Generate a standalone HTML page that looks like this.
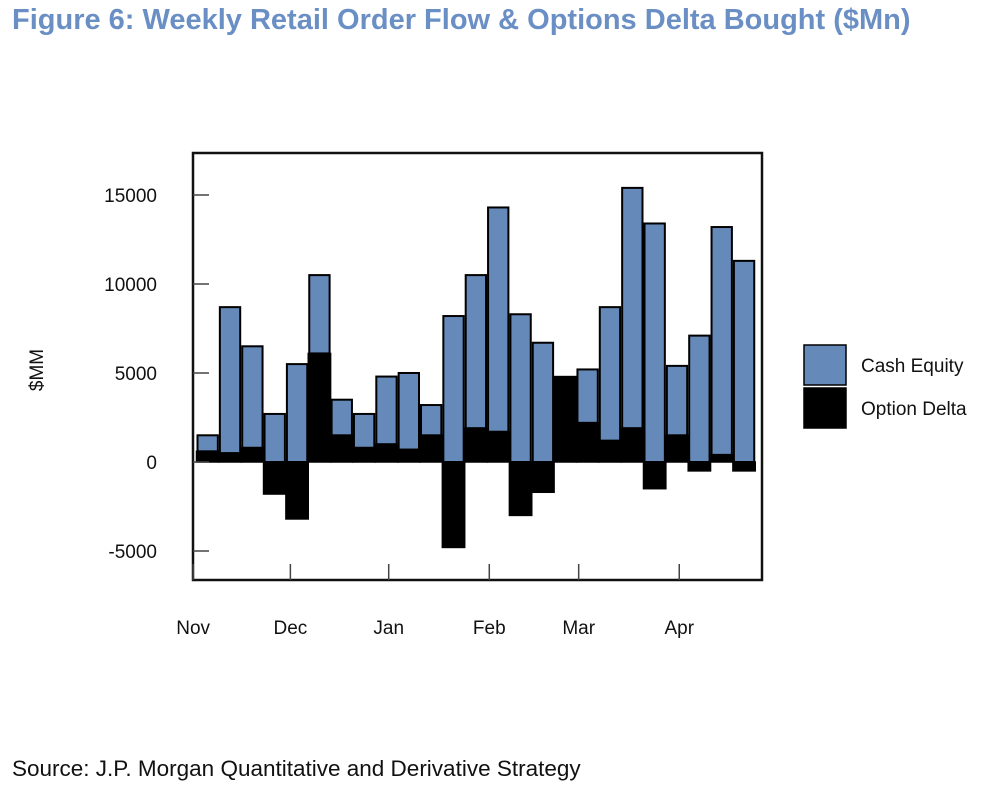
<!DOCTYPE html>
<html><head><meta charset="utf-8"><style>
body{margin:0;background:#fff;width:986px;height:799px;overflow:hidden;font-family:"Liberation Sans",sans-serif}
#title{position:absolute;left:12px;top:4px;font-size:29px;font-weight:bold;color:#6a8fc4;white-space:nowrap}
#src{position:absolute;left:12px;top:756px;font-size:22.5px;color:#111}
svg{position:absolute;left:0;top:0}
</style></head><body>
<div id="title">Figure 6: Weekly Retail Order Flow &amp; Options Delta Bought ($Mn)</div>
<div id="src">Source: J.P. Morgan Quantitative and Derivative Strategy</div>
<svg id="c" width="986" height="799"></svg>
<script>
const optionDelta=[600,500,800,-1800,-3200,6100,1500,800,1000,700,1500,-4800,1900,1700,-3000,-1700,4800,2200,1200,1900,-1500,1500,-500,400,-500];
const cashEquity=[900,8200,5700,2700,5500,4400,2000,1900,3800,4300,1700,8200,8600,12600,8300,6700,0,3000,7500,13500,13400,3900,7100,12800,11300];
const yTicks=[15000,10000,5000,0,-5000];
const months=["Nov","Dec","Jan","Feb","Mar","Apr"];
const monthIdx=[-0.15,4.2,8.6,13.1,17.1,21.6];
const NS="http://www.w3.org/2000/svg";
const svg=document.getElementById('c');
const L=193,R=762,T=153,B=580;
const y=v=>462-v*89/5000;
const x0=196.5,step=22.35;
const x=i=>x0+i*step;
function mk(t,a){const e=document.createElementNS(NS,t);for(const k in a)e.setAttribute(k,a[k]);svg.appendChild(e);return e;}
mk('rect',{x:L,y:T,width:R-L,height:B-T,fill:'#fff',stroke:'#111','stroke-width':2.5});
for(let i=0;i<cashEquity.length;i++){
  const o=optionDelta[i],c=cashEquity[i];
  const ob=mk('rect',{x:x(i),y:Math.min(y(0),y(o)),width:step,height:Math.abs(y(o)-y(0)),fill:'#000',stroke:'#000','stroke-width':1.5});
  
  
  const base=Math.max(o,0);
  if(c>0){
    const cb=mk('rect',{x:x(i)+1,y:y(base+c),width:step-2,height:y(base)-y(base+c),fill:'#6589b8',stroke:'#000','stroke-width':2});
    
    
  }
}
yTicks.forEach(v=>{
  mk('line',{x1:L,x2:L+16,y1:y(v),y2:y(v),stroke:'#444','stroke-width':1.5});
  const t=mk('text',{x:157,y:y(v)+7,'text-anchor':'end','font-size':19,fill:'#111'});
  t.textContent=v;
  
  
});
months.forEach((m,i)=>{
  const xx=x(monthIdx[i]);
  mk('line',{x1:xx,x2:xx,y1:B,y2:B-16,stroke:'#444','stroke-width':1.5});
  const t=mk('text',{x:xx,y:634,'text-anchor':'middle','font-size':19,fill:'#111'});
  t.textContent=m;
  
  
});
const yt=mk('text',{x:0,y:0,'text-anchor':'middle','font-size':19,fill:'#111',transform:'translate(43,370) rotate(-90)'});
yt.textContent='$MM';


[['#6589b8','Cash Equity',345],['#000','Option Delta',388]].forEach(([f,l,yy])=>{
  const r=mk('rect',{x:804,y:yy,width:42,height:40,fill:f,stroke:'#000','stroke-width':1.5});
  
  
  const t=mk('text',{x:861,y:yy+27,'font-size':19,fill:'#111'});
  t.textContent=l;
  
  
});
</script>
</body></html>
